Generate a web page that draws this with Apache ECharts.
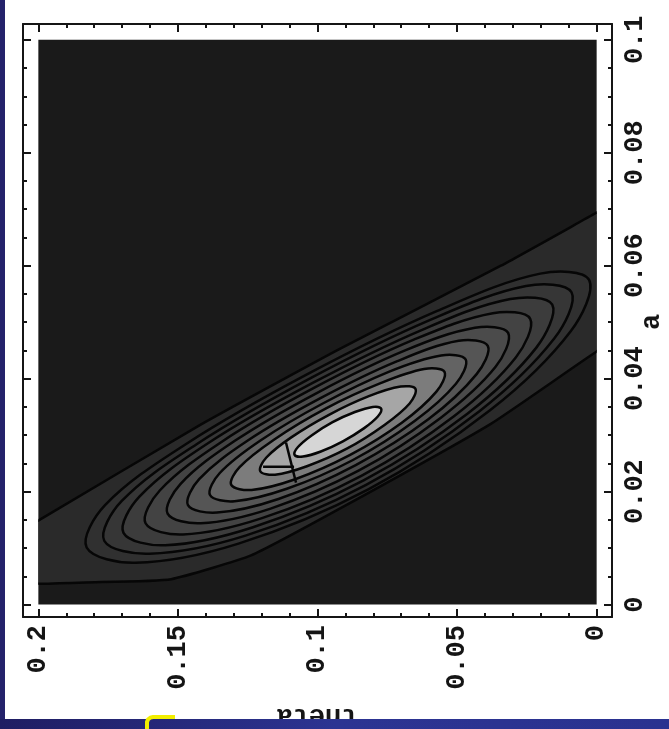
<!DOCTYPE html>
<html>
<head>
<meta charset="utf-8">
<script src="https://cdn.jsdelivr.net/npm/echarts@6/dist/echarts.min.js"></script>
<style>
  html, body { margin: 0; padding: 0; background: #ffffff; }
  #chart { width: 669px; height: 729px; }
</style>
</head>
<body>
<div id="chart"></div>
<script>
// Axis ticks and labels
const thetaTickValues = [0, 0.05, 0.1, 0.15, 0.2];
const thetaTickLabels = ['0', '0.05', '0.1', '0.15', '0.2'];
const thetaMinorTicks = [0.01, 0.02, 0.03, 0.04, 0.06, 0.07, 0.08, 0.09, 0.11, 0.12, 0.13, 0.14, 0.16, 0.17, 0.18, 0.19];
const aTickValues = [0, 0.02, 0.04, 0.06, 0.08, 0.1];
const aTickLabels = ['0', '0.02', '0.04', '0.06', '0.08', '0.1'];
const aMinorTicks = [0.005, 0.01, 0.015, 0.025, 0.03, 0.035, 0.045, 0.05, 0.055, 0.065, 0.07, 0.075, 0.085, 0.09, 0.095];

// Contour polygons as [theta, a] vertices, outermost level first.
// The outermost level leaves the plotted range on both sides.
const level0 = [[0.2132,0.0113],[0.1996,0.0150],[0.1417,0.0319],[0.0927,0.0451],[0.0343,0.0600],[0.0000,0.0694],[-0.0372,0.0795],
                [-0.0372,0.0560],[0.0000,0.0448],[0.0379,0.0320],[0.0927,0.0168],[0.1238,0.0087],[0.1524,0.0045],[0.1775,0.0040],[0.2132,0.0040]];
const level1 = [[0.0027,0.0575],[0.0093,0.0484],[0.0382,0.0344],[0.0818,0.0204],[0.1283,0.0108],[0.1652,0.0074],
                [0.1827,0.0101],[0.1761,0.0176],[0.1472,0.0284],[0.1036,0.0408],[0.0571,0.0520],[0.0202,0.0586]];
const level2 = [[0.0090,0.0553],[0.0152,0.0471],[0.0421,0.0342],[0.0826,0.0212],[0.1258,0.0122],[0.1602,0.0090],
                [0.1764,0.0113],[0.1702,0.0183],[0.1433,0.0284],[0.1028,0.0400],[0.0596,0.0504],[0.0253,0.0564]];
const level3 = [[0.0159,0.0531],[0.0216,0.0455],[0.0463,0.0338],[0.0835,0.0220],[0.1231,0.0137],[0.1546,0.0105],
                [0.1695,0.0127],[0.1638,0.0191],[0.1391,0.0286],[0.1019,0.0392],[0.0623,0.0487],[0.0309,0.0541]];
const level4 = [[0.0238,0.0506],[0.0289,0.0438],[0.0510,0.0334],[0.0843,0.0228],[0.1199,0.0153],[0.1482,0.0124],
                [0.1616,0.0144],[0.1565,0.0202],[0.1344,0.0288],[0.1011,0.0384],[0.0655,0.0469],[0.0372,0.0516]];
const level5 = [[0.0317,0.0481],[0.0362,0.0421],[0.0558,0.0331],[0.0853,0.0237],[0.1168,0.0170],[0.1418,0.0144],
                [0.1537,0.0161],[0.1492,0.0213],[0.1296,0.0290],[0.1001,0.0375],[0.0686,0.0450],[0.0436,0.0490]];
const level6 = [[0.0390,0.0458],[0.0430,0.0408],[0.0603,0.0328],[0.0863,0.0247],[0.1140,0.0187],[0.1360,0.0163],
                [0.1464,0.0176],[0.1424,0.0222],[0.1251,0.0290],[0.0991,0.0365],[0.0714,0.0431],[0.0494,0.0467]];
const level7 = [[0.0469,0.0434],[0.0504,0.0391],[0.0652,0.0325],[0.0873,0.0256],[0.1110,0.0205],[0.1297,0.0183],
                [0.1385,0.0194],[0.1350,0.0233],[0.1203,0.0291],[0.0981,0.0356],[0.0745,0.0412],[0.0557,0.0441]];
const level8 = [[0.0545,0.0412],[0.0574,0.0377],[0.0698,0.0322],[0.0883,0.0265],[0.1080,0.0222],[0.1236,0.0203],
                [0.1309,0.0212],[0.1280,0.0243],[0.1156,0.0292],[0.0971,0.0347],[0.0774,0.0392],[0.0618,0.0417]];
const level9 = [[0.0649,0.0382],[0.0670,0.0356],[0.0760,0.0318],[0.0895,0.0276],[0.1038,0.0245],[0.1152,0.0230],
                [0.1205,0.0236],[0.1184,0.0260],[0.1094,0.0296],[0.0959,0.0336],[0.0816,0.0369],[0.0702,0.0386]];
const level10 = [[0.0772,0.0347],[0.0784,0.0333],[0.0834,0.0312],[0.0909,0.0289],[0.0988,0.0271],[0.1052,0.0262],
                 [0.1082,0.0265],[0.1070,0.0279],[0.1020,0.0300],[0.0946,0.0323],[0.0866,0.0341],[0.0802,0.0350]];

// Short crossing contour segments beside the left end of the peak
const crossingSegments = [
  [[0.1195, 0.0244], [0.1084, 0.0244]],
  [[0.1113, 0.0287], [0.1077, 0.0216]]
];

const contourLevels = [level0, level1, level2, level3, level4, level5, level6, level7, level8, level9, level10];
const contourShades = ['#2a2a2a', '#303030', '#363636', '#3c3c3c', '#434343', '#4b4b4b',
                       '#555555', '#636363', '#7c7c7c', '#a6a6a6', '#d6d6d6'];

const INK = '#151515';
const LINE = '#060606';
const LABEL_FONT = { fontFamily: 'Liberation Mono', fontSize: 27, fontWeight: 'bold', color: INK };

function labelFor(values, labels) {
  return v => {
    const i = values.findIndex(x => Math.abs(x - v) < 1e-9);
    return i < 0 ? '' : labels[i];
  };
}

// Pixel rectangle of the plotted range theta in [0, 0.2], a in [0, 0.1]
function plotRect(api) {
  const tl = api.coord([0.2, 0.1]);
  const br = api.coord([0, 0]);
  return { x: tl[0], y: tl[1], width: br[0] - tl[0], height: br[1] - tl[1] };
}

const THETA_RANGE = { min: -0.0055, max: 0.2055 };
const A_RANGE = { min: -0.0022, max: 0.1028 };

function xAxisDef(position, ticks, tickLen, showLine, labels) {
  return {
    type: 'value', position, inverse: true, ...THETA_RANGE,
    axisLine: { show: showLine, onZero: false, lineStyle: { color: INK, width: 2 } },
    axisTick: { show: true, inside: true, length: tickLen, customValues: ticks, lineStyle: { color: INK, width: 2 } },
    axisLabel: labels ? { show: true, rotate: 90, margin: 8, customValues: ticks, formatter: labelFor(thetaTickValues, thetaTickLabels), ...LABEL_FONT } : { show: false },
    splitLine: { show: false }
  };
}
function yAxisDef(position, ticks, tickLen, showLine, labels) {
  return {
    type: 'value', position, ...A_RANGE,
    axisLine: { show: showLine, onZero: false, lineStyle: { color: INK, width: 2 } },
    axisTick: { show: true, inside: true, length: tickLen, customValues: ticks, lineStyle: { color: INK, width: 2 } },
    axisLabel: labels ? { show: true, rotate: 90, margin: 10, customValues: ticks, formatter: labelFor(aTickValues, aTickLabels), ...LABEL_FONT } : { show: false },
    splitLine: { show: false }
  };
}

const chart = echarts.init(document.getElementById('chart'), null, { renderer: 'canvas' });

chart.setOption({
  backgroundColor: '#ffffff',
  animation: false,
  grid: { left: 23, top: 24, width: 589, height: 593, containLabel: false },
  xAxis: [
    xAxisDef('bottom', thetaTickValues, 8, true, true),
    xAxisDef('bottom', thetaMinorTicks, 4, false, false),
    xAxisDef('top', thetaTickValues, 8, true, false),
    xAxisDef('top', thetaMinorTicks, 4, false, false)
  ],
  yAxis: [
    yAxisDef('right', aTickValues, 8, true, true),
    yAxisDef('right', aMinorTicks, 4, false, false),
    yAxisDef('left', aTickValues, 8, true, false),
    yAxisDef('left', aMinorTicks, 4, false, false)
  ],
  series: [
    {
      name: 'plot area',
      type: 'custom',
      xAxisIndex: 0, yAxisIndex: 0,
      data: [[0, 0]],
      silent: true,
      renderItem: (params, api) => ({ type: 'rect', shape: plotRect(api), style: { fill: '#1a1a1a' } })
    },
    {
      name: 'contours',
      type: 'custom',
      xAxisIndex: 0, yAxisIndex: 0,
      data: contourLevels.map((_, i) => [i]),
      silent: true,
      renderItem: (params, api) => {
        const idx = api.value(0);
        const pts = contourLevels[idx].map(p => api.coord(p));
        return {
          type: 'group',
          clipPath: { type: 'rect', shape: plotRect(api) },
          children: [{
            type: 'polygon',
            shape: { points: pts, smooth: idx === 0 ? 0.15 : 0.35 },
            style: { fill: contourShades[idx], stroke: LINE, lineWidth: 2.5 }
          }]
        };
      }
    },
    {
      name: 'crossings',
      type: 'custom',
      xAxisIndex: 0, yAxisIndex: 0,
      data: crossingSegments.map((_, i) => [i]),
      silent: true,
      z: 3,
      renderItem: (params, api) => ({
        type: 'polyline',
        shape: { points: crossingSegments[api.value(0)].map(p => api.coord(p)) },
        style: { fill: null, stroke: LINE, lineWidth: 2.5 }
      })
    }
  ],
  graphic: [
    { type: 'text', x: 317, y: 702, rotation: Math.PI, z: 10,
      style: { text: 'theta', font: 'bold 27px "Liberation Mono"', fill: INK, textAlign: 'center', textVerticalAlign: 'bottom' } },
    { type: 'text', x: 652, y: 322, rotation: Math.PI / 2, z: 10,
      style: { text: 'a', font: 'bold 27px "Liberation Mono"', fill: INK, textAlign: 'center', textVerticalAlign: 'middle' } },
    { type: 'rect', z: 20, shape: { x: 0, y: 0, width: 5, height: 729 }, style: { fill: '#24226b' } },
    { type: 'rect', z: 20, shape: { x: 0, y: 719, width: 669, height: 10 },
      style: { fill: new echarts.graphic.LinearGradient(0, 0, 1, 0, [
        { offset: 0, color: '#1f1d62' }, { offset: 0.5, color: '#2c3492' }, { offset: 1, color: '#2a3290' }]) } },
    { type: 'polyline', z: 30,
      shape: { points: [[147, 729], [147, 722], [148, 719.5], [150.5, 717.5], [153, 717], [175, 717]] },
      style: { fill: null, stroke: '#f2ee00', lineWidth: 4 } }
  ]
});
</script>
</body>
</html>
